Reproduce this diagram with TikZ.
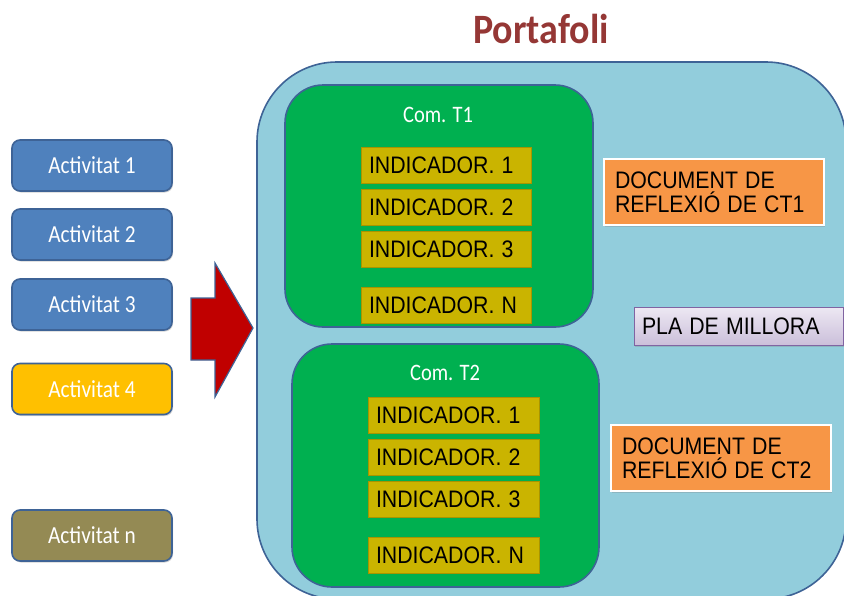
\documentclass[tikz,border=0pt]{standalone}
\usepackage{fontspec}
\usepackage{graphicx}
\setmainfont{Liberation Sans}
\newfontfamily\calibrifont{Carlito}
\usetikzlibrary{shadows}
\newcommand\tallt[1]{\scalebox{1}[1.12]{#1}}
\newcommand\tallc[1]{\scalebox{1}[1.15]{#1}}
\definecolor{portblue}{HTML}{92CDDC}
\definecolor{edgeblue}{HTML}{3E6396}
\definecolor{compgreen}{HTML}{00B050}
\definecolor{indyellow}{HTML}{CAB400}
\definecolor{indedge}{HTML}{A89400}
\definecolor{actblue}{HTML}{4F81BD}
\definecolor{actyellow}{HTML}{FFC000}
\definecolor{actolive}{HTML}{948A54}
\definecolor{docorange}{HTML}{F79646}
\definecolor{platop}{HTML}{EDE8F3}
\definecolor{plabot}{HTML}{CBBFDA}
\definecolor{plaedge}{HTML}{8064A2}
\definecolor{titlered}{HTML}{953735}
\definecolor{arrowred}{HTML}{C00000}
\tikzset{
  actbox/.style={draw=edgeblue, line width=1.6pt, rounded corners=8pt,
    minimum width=160pt, minimum height=51pt, inner sep=0pt,
    font=\calibrifont\fontsize{21.3}{24}\selectfont, text=white,
    drop shadow={shadow xshift=1pt, shadow yshift=-1.5pt, opacity=0.35}},
  indbox/.style={draw=indedge, line width=0.6pt, fill=indyellow,
    minimum height=36pt, inner ysep=0pt, inner xsep=8pt, align=left,
    font=\fontsize{21.3}{24}\selectfont},
  docbox/.style={draw=white, line width=2.2pt, fill=docorange,
    minimum width=220pt, minimum height=66pt, inner ysep=0pt, inner xsep=10pt,
    text width=198pt, align=left, font=\fontsize{21.3}{24}\selectfont,
    drop shadow={shadow xshift=1pt, shadow yshift=-1.5pt, opacity=0.3}},
  compbox/.style={draw=edgeblue, line width=1.6pt, fill=compgreen},
  comlabel/.style={font=\calibrifont\fontsize{20.5}{24}\selectfont, text=white, inner sep=0pt}
}
\begin{document}
\begin{tikzpicture}[x=1pt, y=-1pt]
\useasboundingbox (0,0) rectangle (844,595);
\begin{scope}
\clip (0,0) rectangle (844,595);
% title
\node[font=\calibrifont\bfseries\fontsize{38}{40}\selectfont, text=titlered, anchor=base, inner sep=0pt] (title) at (541,43) {\scalebox{1}[1.1]{Portafoli}};
% portfolio container
\draw[draw=edgeblue, line width=1.6pt, fill=portblue, rounded corners=80pt] (257,62) rectangle (846,599);
\coordinate (port) at (550,330);
% competence boxes
\draw[compbox, rounded corners=38pt] (285,85) rectangle (593,327);
\draw[compbox, rounded corners=40pt] (292,344) rectangle (599,587);
\node[comlabel] (ct1) at (438,115) {\tallc{Com. T1}};
\node[comlabel] (ct2) at (445,373) {\tallc{Com. T2}};
% indicators T1
\node[indbox, text width=154pt] (a1) at (446,165) {\tallt{INDICADOR. 1}};
\node[indbox, text width=154pt] (a2) at (446,207) {\tallt{INDICADOR. 2}};
\node[indbox, text width=154pt] (a3) at (446,249) {\tallt{INDICADOR. 3}};
\node[indbox, text width=154pt] (an) at (446,305) {\tallt{INDICADOR. N}};
% indicators T2
\node[indbox, text width=155pt] (b1) at (453.5,415) {\tallt{INDICADOR. 1}};
\node[indbox, text width=155pt] (b2) at (453.5,457) {\tallt{INDICADOR. 2}};
\node[indbox, text width=155pt] (b3) at (453.5,499) {\tallt{INDICADOR. 3}};
\node[indbox, text width=155pt] (bn) at (453.5,555) {\tallt{INDICADOR. N}};
% documents
\node[docbox] (doc1) at (714,192) {\tallt{DOCUMENT DE}\\\tallt{REFLEXIÓ DE CT1}};
\node[docbox] (doc2) at (721,458) {\tallt{DOCUMENT DE}\\\tallt{REFLEXIÓ DE CT2}};
% pla de millora
\node[draw=plaedge, line width=1pt, top color=platop, bottom color=plabot,
  minimum width=209pt, minimum height=38pt, inner ysep=0pt, inner xsep=8pt,
  text width=193pt, align=left, font=\fontsize{21.3}{24}\selectfont,
  drop shadow={shadow xshift=1pt, shadow yshift=-1.5pt, opacity=0.3}] (pla) at (738.5,326) {\tallt{PLA DE MILLORA}};
% activities
\node[actbox, fill=actblue] (act1) at (92,165.5) {\tallc{Activitat 1}};
\node[actbox, fill=actblue] (act2) at (92,234.5) {\tallc{Activitat 2}};
\node[actbox, fill=actblue] (act3) at (92,304.5) {\tallc{Activitat 3}};
\node[actbox, fill=actyellow] (act4) at (92,389) {\tallc{Activitat 4}};
\node[actbox, fill=actolive] (actn) at (92,535.5) {\tallc{Activitat n}};
% big arrow
\draw[draw=edgeblue, line width=1.2pt, fill=arrowred, line join=miter]
  (191,298) -- (215,298) -- (215,263) -- (253,328) -- (215,397) -- (215,360) -- (191,360) -- cycle;
\end{scope}
\end{tikzpicture}
\end{document}
